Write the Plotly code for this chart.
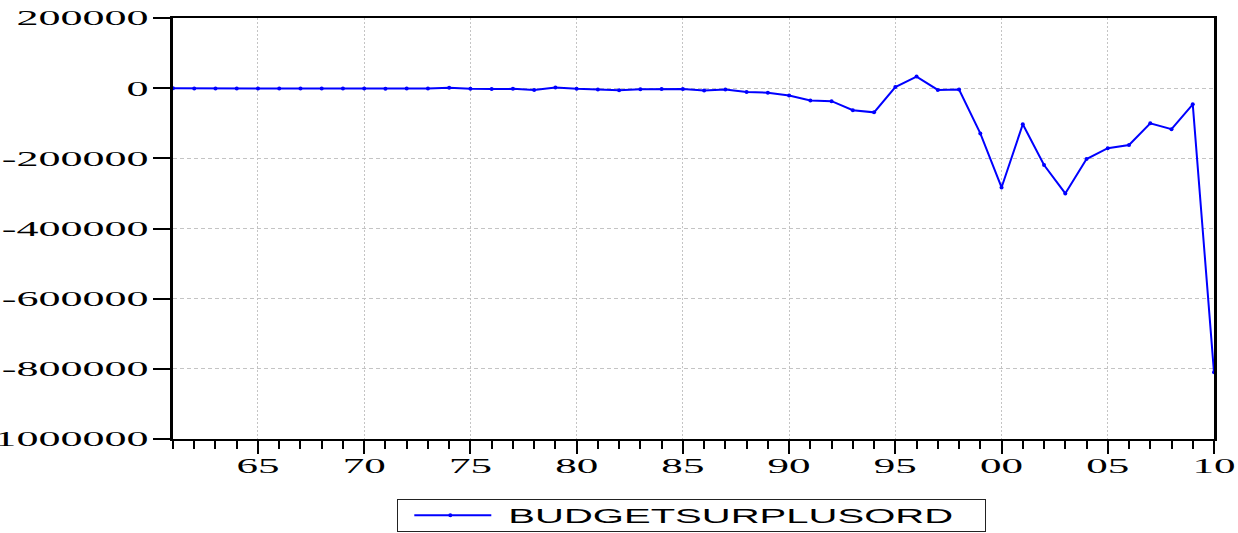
import plotly.graph_objects as go

# ---- data ----
years = list(range(1961, 2011))
budget_surplus = [
    -500, -800, -800, -900, -700, -700, -900, -1000, -800, -1200,      # 1961-1970
    -1500, -1300, -900, 1000, -1800, -2200, -2000, -5500, 2000, -2000,  # 1971-1980
    -3500, -6000, -3000, -2500, -2500, -7000, -4000, -11000, -13000, -21000,  # 1981-1990
    -35000, -37000, -63000, -69000, 3000, 33000, -5000, -4000, -129000, -283000,  # 1991-2000
    -103000, -219000, -300000, -202000, -171000, -162000, -100000, -117000, -46000, -810000,  # 2001-2010
]
series_name = "BUDGETSURPLUSORD"
x_tick_years = [1965, 1970, 1975, 1980, 1985, 1990, 1995, 2000, 2005, 2010]
x_tick_labels = ["65", "70", "75", "80", "85", "90", "95", "00", "05", "10"]
y_tick_values = [200000, 0, -200000, -400000, -600000, -800000, -1000000]
y_tick_labels = ["200000", "0", "-200000", "-400000", "-600000", "-800000", "-1000000"]

BLUE = "#0000ff"

fig = go.Figure()
fig.add_trace(go.Scatter(
    x=years, y=budget_surplus, mode="lines+markers", name=series_name,
    line=dict(color=BLUE, width=2),
    marker=dict(color=BLUE, size=4),
    cliponaxis=False,
))

fig.update_layout(
    template="none",
    width=1238, height=533,
    margin=dict(l=173, r=24, t=18, b=94),
    paper_bgcolor="white", plot_bgcolor="white",
    showlegend=True,
    legend=dict(
        orientation="h", xref="container", yref="container",
        x=397 / 1238, y=1 - 499 / 533, xanchor="left", yanchor="top",
        bordercolor="#222222", borderwidth=1.3, bgcolor="white",
        font=dict(family="Liberation Sans, Arial, sans-serif", size=13, color="black"),
        itemwidth=100, entrywidth=471, entrywidthmode="pixels",
    ),
    xaxis=dict(
        range=[1961, 2010], autorange=False, automargin=False,
        tickmode="array", tickvals=x_tick_years, ticktext=x_tick_labels,
        ticks="outside", ticklen=13, tickwidth=2, tickcolor="black",
        tickfont=dict(family="Liberation Serif, Times New Roman, serif", size=21, color="black"),
        ticklabelstandoff=-6,
        showline=True, linewidth=2.3, linecolor="black", mirror=True,
        showgrid=True, gridcolor="#c4c4c4", gridwidth=1, griddash="2px,2px",
        zeroline=False,
        minor=dict(tickmode="linear", tick0=1961, dtick=1, ticks="outside",
                   ticklen=8, tickwidth=2, tickcolor="black", showgrid=False),
    ),
    yaxis=dict(
        range=[-1000000, 200000], autorange=False, automargin=False,
        tickmode="array", tickvals=y_tick_values, ticktext=y_tick_labels,
        ticks="outside", ticklen=17, tickwidth=2, tickcolor="black",
        tickfont=dict(family="Liberation Serif, Times New Roman, serif", size=21, color="black"),
        showline=True, linewidth=3.3, linecolor="black", mirror=True,
        showgrid=True, gridcolor="#c4c4c4", gridwidth=1, griddash="4px,3px",
        zeroline=False,
    ),
)

post = """
document.documentElement.style.margin='0';
document.body.style.margin='0';
document.documentElement.style.overflow='hidden';
var gd = document.getElementById('{plot_id}');
function stretchText(){
  gd.querySelectorAll('g.xtick').forEach(function(g){
    g.style.transformBox='fill-box'; g.style.transformOrigin='center center'; g.style.transform='scaleX(2.05)';
  });
  gd.querySelectorAll('g.ytick').forEach(function(g){
    g.style.transformBox='fill-box'; g.style.transformOrigin='right center'; g.style.transform='scaleX(2.1)';
  });
  gd.querySelectorAll('text.legendtext').forEach(function(t){
    t.style.transformBox='fill-box'; t.style.transformOrigin='left center'; t.style.transform='scale(3.08,1.5)';
  });
  gd.querySelectorAll('.legendlines path').forEach(function(p){ p.setAttribute('d','M16,0h77'); });
  gd.querySelectorAll('.legendpoints path.scatterpts').forEach(function(p){ p.setAttribute('transform','translate(52,0)'); });
}
stretchText();
if (gd.on) { gd.on('plotly_afterplot', stretchText); }
"""

fig.write_html("out.html", post_script=post, config={"displayModeBar": False})
